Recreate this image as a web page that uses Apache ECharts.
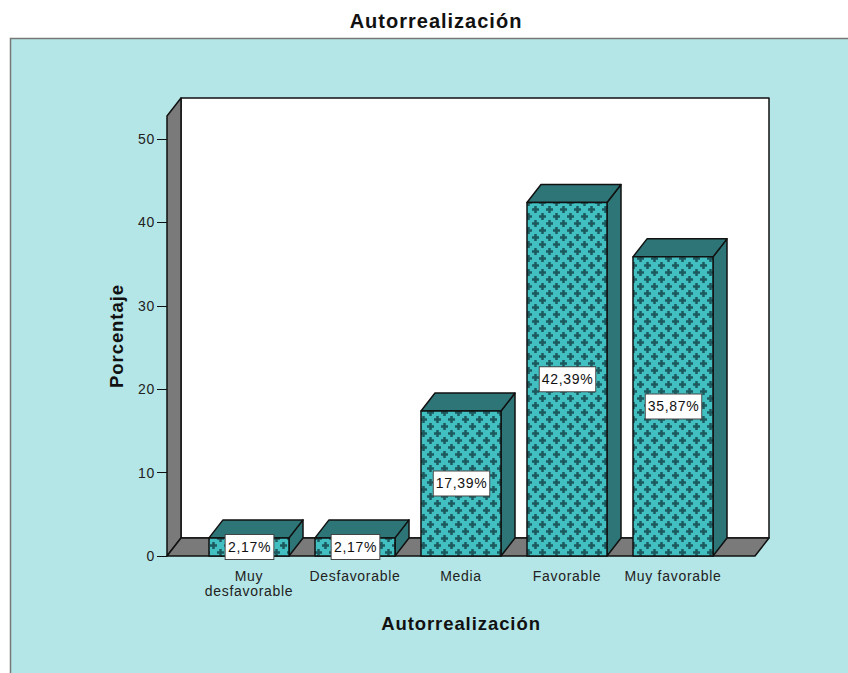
<!DOCTYPE html>
<html>
<head>
<meta charset="utf-8">
<title>Autorrealización</title>
<style>
  html, body { margin: 0; padding: 0; background: #fff; }
  #chart { width: 848px; height: 673px; }
  /* el original tiene el texto algo espaciado */
  #chart svg text { letter-spacing: 0.05em; }
</style>
<script src="https://cdn.jsdelivr.net/npm/echarts@6/dist/echarts.min.js"></script>
</head>
<body>
<div id="chart"></div>
<script>
var categories = ['Muy\ndesfavorable', 'Desfavorable', 'Media', 'Favorable', 'Muy favorable'];
var percentages = [2.17, 2.17, 17.39, 42.39, 35.87];
var yTicks = [0, 10, 20, 30, 40, 50];
var yMax = 52.76;

var panelColor = '#b5e6e7';
var wallColor = '#7a7a7a';
var barTopColor = '#2e7577';
var font = '"Liberation Sans", Arial, sans-serif';
// profundidad del efecto 3D y margen entre suelo y primera barra
var depthX = 14, depthY = 18, sidePad = 29, barWidth = 80;

// trama de cruces de las barras
function makePattern() {
  var c = document.createElement('canvas');
  c.width = 14; c.height = 14;
  var ctx = c.getContext('2d');
  ctx.fillStyle = '#41bfc1';
  ctx.fillRect(0, 0, 14, 14);
  ctx.fillStyle = '#1d5a5f';
  ctx.filter = 'blur(0.4px)';
  [[3.5, 13.5], [3.5, -0.5], [10.5, 6.5]].forEach(function(p) {
    ctx.fillRect(p[0] - 1.25, p[1] - 3.5, 2.5, 7);
    ctx.fillRect(p[0] - 3.5, p[1] - 1.25, 7, 2.5);
  });
  return c;
}
var pattern = { image: makePattern(), repeat: 'repeat' };

function poly(points, fill) {
  return {
    type: 'polygon',
    shape: { points: points },
    style: { fill: fill, stroke: '#111', lineWidth: 1.5, lineJoin: 'round' }
  };
}

function renderWalls(params, api) {
  var cs = params.coordSys;
  var l = cs.x - sidePad, r = cs.x + cs.width + sidePad;
  var t = cs.y, b = cs.y + cs.height;
  return {
    type: 'group',
    children: [
      poly([[l + depthX, t - depthY], [r + depthX, t - depthY], [r + depthX, b - depthY], [l + depthX, b - depthY]], '#fff'),
      poly([[l, b], [l, t], [l + depthX, t - depthY], [l + depthX, b - depthY]], wallColor),
      poly([[l, b], [l + depthX, b - depthY], [r + depthX, b - depthY], [r, b]], wallColor)
    ]
  };
}

function renderBar(params, api) {
  var top = api.coord([api.value(0), api.value(1)]);
  var base = api.coord([api.value(0), 0]);
  var x0 = top[0] - barWidth / 2, x1 = top[0] + barWidth / 2;
  var yt = top[1], yb = base[1];
  var text = api.value(1).toFixed(2).replace('.', ',') + '%';
  return {
    type: 'group',
    children: [
      poly([[x1, yb], [x1, yt], [x1 + depthX, yt - depthY], [x1 + depthX, yb - depthY]], barTopColor),
      poly([[x0, yt], [x0 + depthX, yt - depthY], [x1 + depthX, yt - depthY], [x1, yt]], barTopColor),
      poly([[x0, yt], [x1, yt], [x1, yb], [x0, yb]], pattern),
      {
        type: 'text',
        x: top[0] + 0.5,
        y: (yt + yb) / 2,
        style: {
          text: text,
          font: '14px ' + font,
          fill: '#111',
          align: 'center',
          verticalAlign: 'middle',
          backgroundColor: '#fff',
          borderColor: '#444',
          borderWidth: 1,
          padding: [5, 4, 5, 4]
        }
      }
    ]
  };
}

var chart = echarts.init(document.getElementById('chart'), null, { renderer: 'svg' });
chart.setOption({
  animation: false,
  backgroundColor: '#fff',
  textStyle: { fontFamily: font },
  title: {
    text: 'Autorrealización',
    left: 431, top: 6,
    textAlign: 'center',
    textStyle: { fontSize: 20, fontWeight: 'bold', color: '#111', fontFamily: font }
  },
  graphic: [{
    type: 'rect',
    z: -10,
    shape: { x: 10.5, y: 38.5, width: 860, height: 660 },
    style: { fill: panelColor, stroke: '#777', lineWidth: 1.5 }
  }],
  grid: { left: 196, top: 116, width: 530, height: 440 },
  xAxis: {
    type: 'category',
    data: categories,
    name: 'Autorrealización',
    nameLocation: 'middle',
    nameGap: 58,
    nameTextStyle: { fontSize: 18.5, fontWeight: 'bold', color: '#111' },
    axisLine: { show: false },
    axisTick: { alignWithLabel: true, length: 9, lineStyle: { color: '#111', width: 1 } },
    axisLabel: { color: '#222', fontSize: 14, margin: 12, lineHeight: 15, interval: 0 }
  },
  yAxis: {
    type: 'value',
    min: 0,
    max: yMax,
    offset: sidePad,
    name: 'Porcentaje',
    nameLocation: 'middle',
    nameGap: 41,
    nameTextStyle: { fontSize: 18.5, fontWeight: 'bold', color: '#111' },
    splitLine: { show: false },
    axisLine: { show: false },
    axisTick: { show: true, customValues: yTicks, length: 10, lineStyle: { color: '#111', width: 1 } },
    axisLabel: { customValues: yTicks, color: '#222', fontSize: 14, margin: 12 }
  },
  series: [
    {
      type: 'custom',
      renderItem: renderWalls,
      data: [0],
      silent: true,
      clip: false,
      z: 1
    },
    {
      type: 'custom',
      renderItem: renderBar,
      encode: { x: 0, y: 1 },
      data: percentages.map(function(v, i) { return [i, v]; }),
      clip: false,
      z: 3
    }
  ]
});
window.addEventListener('resize', function() { chart.resize(); });
</script>
</body>
</html>
